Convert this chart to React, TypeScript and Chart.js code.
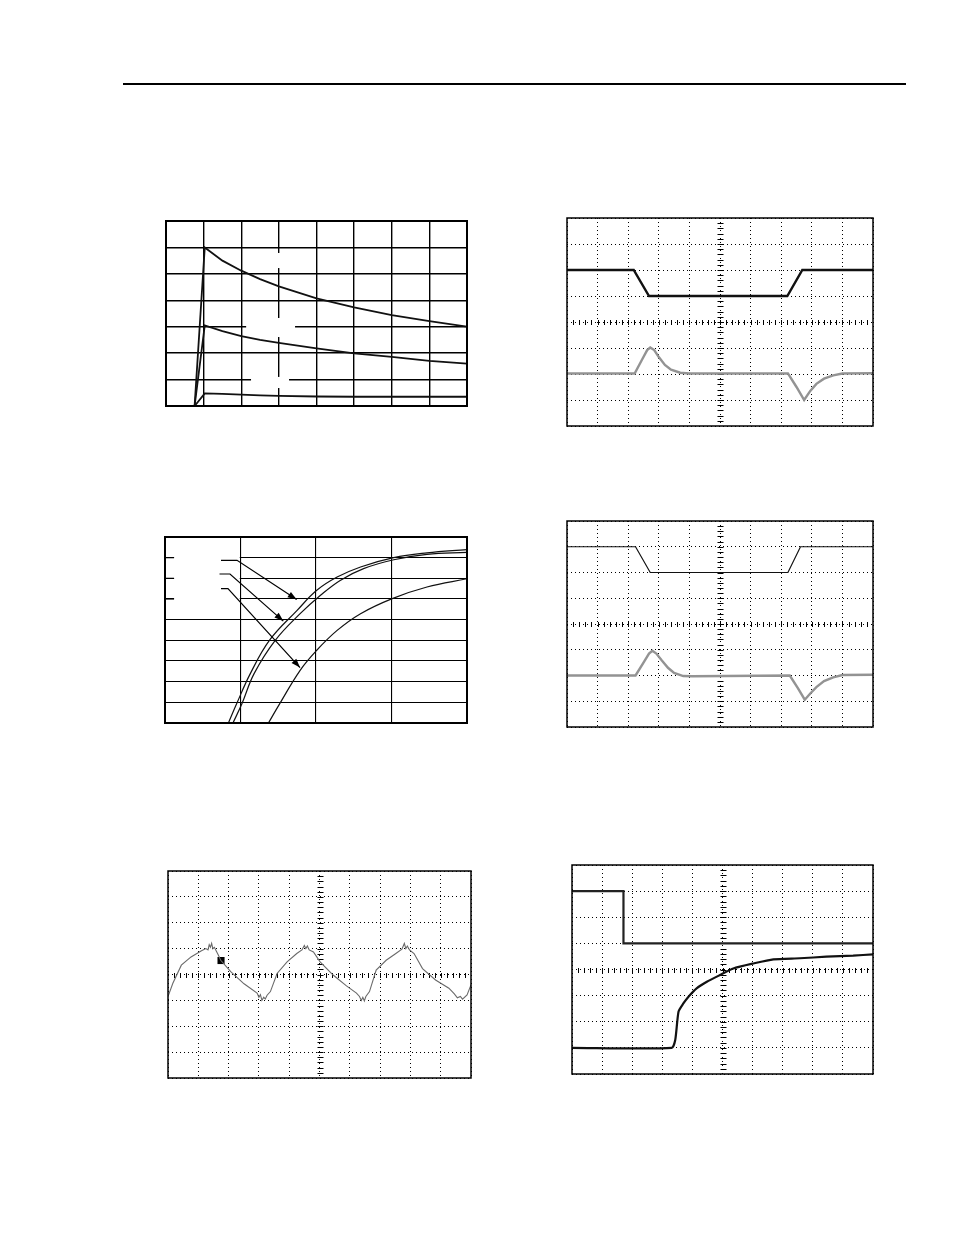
import React, { useEffect, useRef } from "react";
import { Chart, registerables } from "chart.js";

Chart.register(...registerables);

// ---------- Chart 1 (top-left): step response decays ----------
const C1_X = [0, 0.76, 1.03, 1.5, 2, 2.5, 3, 4, 5, 6, 7, 8];
const C1_A = [0, 0, 6.0, 5.5, 5.12, 4.8, 4.53, 4.07, 3.73, 3.44, 3.21, 3.0];
const C1_B = [0, 0, 3.05, 2.83, 2.64, 2.5, 2.39, 2.18, 1.99, 1.86, 1.71, 1.6];
const C1_C = [0, 0, 0.48, 0.46, 0.43, 0.4, 0.38, 0.36, 0.35, 0.35, 0.35, 0.35];
// blank label boxes (data units: x0, x1, y0, y1)
const C1_MASKS = [
  [2.82, 3.22, 5.22, 5.79],
  [2.13, 3.43, 2.61, 3.33],
  [2.26, 3.27, 0.68, 1.1],
];

// ---------- Chart 2 (middle-left): three rising curves ----------
const C2_X1 = [0.84, 0.95, 1.13, 1.39, 1.75, 2.01, 2.28, 2.59, 3.03, 3.47, 4.0];
const C2_Y1 = [0, 0.94, 2.39, 4.03, 5.45, 6.42, 7.06, 7.55, 8.0, 8.23, 8.39];
const C2_X2 = [0.9, 1.02, 1.18, 1.46, 1.79, 2.06, 2.32, 2.63, 3.03, 3.47, 4.0];
const C2_Y2 = [0, 0.94, 2.39, 4.0, 5.29, 6.18, 6.9, 7.47, 7.9, 8.16, 8.26];
const C2_X3 = [1.37, 1.52, 1.79, 2.01, 2.28, 2.59, 3.01, 3.47, 4.0];
const C2_Y3 = [0, 0.94, 2.55, 3.52, 4.48, 5.29, 6.02, 6.58, 6.98];
const C2_MASKS = [[0.12, 0.99, 5.8, 8.3]];
const C2_ARROWS = [
  { x: [0.742, 0.954, 1.744], y: [7.87, 7.87, 5.97] },
  { x: [0.722, 0.861, 1.567], y: [7.21, 7.21, 4.93] },
  { x: [0.742, 0.834, 1.788], y: [6.5, 6.5, 2.68] },
];
const C2_STUBS = [
  { x: [0, 0.12], y: [8, 8] },
  { x: [0, 0.12], y: [7, 7] },
  { x: [0, 0.12], y: [6, 6] },
];

// ---------- Chart 3 (bottom-left): scope ripple ----------
const C3_X = [0, 0.16, 0.44, 0.76, 1.09, 1.25, 1.32, 1.36, 1.4, 1.44, 1.48, 1.53, 1.58, 1.66, 1.74, 2.07, 2.51, 2.94, 3.0, 3.05, 3.1, 3.16, 3.21, 3.27, 3.38, 3.6, 3.93, 4.25, 4.42, 4.5, 4.55, 4.6, 4.66, 4.8, 5.02, 5.45, 5.89, 6.22, 6.32, 6.38, 6.43, 6.48, 6.53, 6.65, 6.87, 7.2, 7.52, 7.72, 7.8, 7.85, 7.9, 7.97, 8.12, 8.4, 8.83, 9.27, 9.45, 9.55, 9.65, 9.72, 9.87, 10];
const C3_Y = [3.15, 3.66, 4.36, 4.68, 4.91, 5.0, 4.95, 5.15, 5.05, 5.2, 5.0, 5.05, 4.94, 4.75, 4.55, 4.11, 3.64, 3.28, 3.12, 3.22, 3.0, 3.12, 3.05, 3.2, 3.34, 4.04, 4.49, 4.81, 4.95, 5.12, 5.0, 5.1, 4.95, 4.87, 4.49, 3.98, 3.56, 3.28, 3.15, 3.0, 3.12, 2.98, 3.15, 3.34, 4.17, 4.55, 4.81, 4.98, 5.2, 5.0, 5.1, 4.95, 4.81, 4.23, 3.79, 3.47, 3.25, 3.1, 3.15, 3.05, 3.21, 3.6];
const C3_MARK_X = [1.75];
const C3_MARK_Y = [4.54];

// ---------- Chart 4 (top-right) ----------
const C4_AX = [0, 2.18, 2.68, 7.2, 7.69, 10];
const C4_AY = [6, 6, 5, 5, 6, 6];
const C4_BX = [0, 2.21, 2.45, 2.62, 2.72, 2.85, 3.0, 3.2, 3.4, 3.7, 4.0, 7.22, 7.5, 7.75, 7.95, 8.15, 8.4, 8.7, 9.0, 10];
const C4_BY = [2.02, 2.02, 2.55, 2.92, 3.02, 2.92, 2.65, 2.35, 2.17, 2.05, 2.02, 2.02, 1.5, 1.0, 1.35, 1.62, 1.82, 1.95, 2.02, 2.03];

// ---------- Chart 5 (middle-right) ----------
const C5_AX = [0, 2.24, 2.72, 7.22, 7.63, 10];
const C5_AY = [7, 7, 6, 6, 7, 7];
const C5_BX = [0, 2.24, 2.5, 2.68, 2.79, 2.92, 3.1, 3.3, 3.5, 3.8, 4.1, 7.28, 7.55, 7.77, 7.95, 8.15, 8.4, 8.7, 9.0, 10];
const C5_BY = [2.0, 2.0, 2.5, 2.85, 2.96, 2.85, 2.58, 2.3, 2.1, 1.98, 1.97, 2.0, 1.5, 1.06, 1.3, 1.55, 1.78, 1.93, 2.02, 2.03];

// ---------- Chart 6 (bottom-right) ----------
const C6_AX = [0, 1.71, 1.71, 10];
const C6_AY = [7, 7, 5, 5];
const C6_BX = [0, 3.31, 3.43, 3.54, 3.7, 3.87, 4.14, 4.48, 4.92, 5.36, 6.02, 6.69, 7.57, 8.45, 9.34, 10];
const C6_BY = [1, 1, 1.3, 2.39, 2.7, 2.96, 3.28, 3.53, 3.79, 4.04, 4.23, 4.39, 4.43, 4.49, 4.53, 4.58];

const PAD = 4;

const zip = (xs: number[], ys: number[]) => xs.map((x, i) => ({ x, y: ys[i] }));

const line = (data: any[], color: string, width: number, tension = 0) => ({
  data,
  showLine: true,
  borderColor: color,
  borderWidth: width,
  pointRadius: 0,
  tension,
  fill: false,
});

const framePlugin = (w: number) => ({
  id: "frame",
  afterDatasetsDraw(chart: any) {
    const { ctx, chartArea: a } = chart;
    ctx.save();
    ctx.strokeStyle = "#000";
    ctx.lineWidth = w;
    ctx.strokeRect(a.left, a.top, a.right - a.left, a.bottom - a.top);
    ctx.restore();
  },
});

const maskPlugin = (rects: number[][]) => ({
  id: "mask",
  beforeDatasetsDraw(chart: any) {
    const { ctx } = chart;
    const xs = chart.scales.x;
    const ys = chart.scales.y;
    ctx.save();
    ctx.fillStyle = "#fff";
    for (const [x0, x1, y0, y1] of rects) {
      const px0 = xs.getPixelForValue(x0);
      const px1 = xs.getPixelForValue(x1);
      const py0 = ys.getPixelForValue(y1);
      const py1 = ys.getPixelForValue(y0);
      ctx.fillRect(px0, py0, px1 - px0, py1 - py0);
    }
    ctx.restore();
  },
});

const pathPlugin = (paths: { x: number[]; y: number[] }[], arrow: boolean, id: string) => ({
  id,
  afterDatasetsDraw(chart: any) {
    const { ctx } = chart;
    const xs = chart.scales.x;
    const ys = chart.scales.y;
    ctx.save();
    ctx.strokeStyle = "#000";
    ctx.fillStyle = "#000";
    ctx.lineWidth = 1.2;
    for (const p of paths) {
      const pts = p.x.map((x, i) => [xs.getPixelForValue(x), ys.getPixelForValue(p.y[i])]);
      ctx.beginPath();
      pts.forEach(([px, py], i) => (i ? ctx.lineTo(px, py) : ctx.moveTo(px, py)));
      ctx.stroke();
      if (arrow && pts.length > 1) {
        const [x1, y1] = pts[pts.length - 2];
        const [x2, y2] = pts[pts.length - 1];
        const ang = Math.atan2(y2 - y1, x2 - x1);
        const L = 9;
        const W = 3.2;
        ctx.beginPath();
        ctx.moveTo(x2, y2);
        ctx.lineTo(x2 - L * Math.cos(ang) + W * Math.sin(ang), y2 - L * Math.sin(ang) - W * Math.cos(ang));
        ctx.lineTo(x2 - L * Math.cos(ang) - W * Math.sin(ang), y2 - L * Math.sin(ang) + W * Math.cos(ang));
        ctx.closePath();
        ctx.fill();
      }
    }
    ctx.restore();
  },
});

const scopeTicksPlugin = {
  id: "scopeTicks",
  beforeDatasetsDraw(chart: any) {
    const { ctx } = chart;
    const xs = chart.scales.x;
    const ys = chart.scales.y;
    const cx = Math.round(xs.getPixelForValue(5)) + 0.5;
    const cy = Math.round(ys.getPixelForValue(4)) + 0.5;
    ctx.save();
    ctx.strokeStyle = "#000";
    ctx.lineWidth = 1;
    ctx.beginPath();
    for (let i = 1; i < 50; i++) {
      const px = Math.round(xs.getPixelForValue(i * 0.2)) + 0.5;
      ctx.moveTo(px, cy - 2.5);
      ctx.lineTo(px, cy + 2.5);
    }
    for (let i = 1; i < 40; i++) {
      const py = Math.round(ys.getPixelForValue(i * 0.2)) + 0.5;
      ctx.moveTo(cx - 3, py);
      ctx.lineTo(cx + 3, py);
    }
    ctx.stroke();
    ctx.restore();
  },
};

function makeOptions(xmax: number, ymax: number, dash: number[], gridW: number) {
  const axis = (max: number) => ({
    type: "linear",
    min: 0,
    max,
    ticks: { display: false, stepSize: 1 },
    grid: { color: "#000", lineWidth: gridW, drawTicks: false },
    border: { display: false, dash },
  });
  return {
    responsive: false,
    animation: false,
    events: [],
    layout: { padding: PAD },
    plugins: { legend: { display: false }, tooltip: { enabled: false } },
    scales: { x: axis(xmax), y: axis(ymax) },
  };
}

function Panel(props: { left: number; top: number; w: number; h: number; build: () => any }) {
  const ref = useRef<HTMLCanvasElement | null>(null);
  useEffect(() => {
    if (!ref.current) return;
    const chart = new Chart(ref.current, props.build());
    return () => chart.destroy();
  }, []);
  return (
    <canvas
      ref={ref}
      width={props.w + 2 * PAD}
      height={props.h + 2 * PAD}
      style={{
        position: "absolute",
        left: props.left - PAD,
        top: props.top - PAD,
        width: props.w + 2 * PAD,
        height: props.h + 2 * PAD,
      }}
    />
  );
}

const SCOPE_DASH = [1, 3];

export default function App() {
  return (
    <div style={{ position: "absolute", left: 0, top: 0, width: 954, height: 1235, background: "#fff" }}>
      <div style={{ position: "absolute", left: 123, top: 83, width: 783, height: 2, background: "#000" }} />

      <Panel
        left={166}
        top={221}
        w={301}
        h={185}
        build={() => ({
          type: "scatter",
          data: {
            datasets: [
              line(zip(C1_X, C1_A), "#111", 1.8),
              line(zip(C1_X, C1_B), "#111", 1.8),
              line(zip(C1_X, C1_C), "#111", 1.8),
            ],
          },
          options: makeOptions(8, 7, [], 1.4),
          plugins: [maskPlugin(C1_MASKS), framePlugin(2)],
        })}
      />

      <Panel
        left={165}
        top={537}
        w={302}
        h={186}
        build={() => ({
          type: "scatter",
          data: {
            datasets: [
              line(zip(C2_X1, C2_Y1), "#111", 1.2, 0.4),
              line(zip(C2_X2, C2_Y2), "#111", 1.2, 0.4),
              line(zip(C2_X3, C2_Y3), "#111", 1.2, 0.4),
            ],
          },
          options: makeOptions(4, 9, [], 1.1),
          plugins: [
            maskPlugin(C2_MASKS),
            pathPlugin(C2_STUBS, false, "stubs"),
            pathPlugin(C2_ARROWS, true, "arrows"),
            framePlugin(2),
          ],
        })}
      />

      <Panel
        left={167}
        top={870}
        w={305}
        h={209}
        build={() => ({
          type: "scatter",
          data: {
            datasets: [
              line(zip(C3_X, C3_Y), "#6a6a6a", 1.1),
              {
                data: zip(C3_MARK_X, C3_MARK_Y),
                showLine: false,
                pointStyle: "rect",
                pointRadius: 5,
                backgroundColor: "#000",
                borderWidth: 0,
              },
            ],
          },
          options: makeOptions(10, 8, SCOPE_DASH, 1),
          plugins: [scopeTicksPlugin, framePlugin(1.5)],
        })}
      />

      <Panel
        left={567}
        top={218}
        w={306}
        h={208}
        build={() => ({
          type: "scatter",
          data: {
            datasets: [
              line(zip(C4_BX, C4_BY), "#939393", 2.4),
              line(zip(C4_AX, C4_AY), "#111", 2.4),
            ],
          },
          options: makeOptions(10, 8, SCOPE_DASH, 1),
          plugins: [scopeTicksPlugin, framePlugin(1.5)],
        })}
      />

      <Panel
        left={567}
        top={521}
        w={306}
        h={206}
        build={() => ({
          type: "scatter",
          data: {
            datasets: [
              line(zip(C5_BX, C5_BY), "#939393", 2.4),
              line(zip(C5_AX, C5_AY), "#111", 1.2),
            ],
          },
          options: makeOptions(10, 8, SCOPE_DASH, 1),
          plugins: [scopeTicksPlugin, framePlugin(1.5)],
        })}
      />

      <Panel
        left={572}
        top={865}
        w={301}
        h={209}
        build={() => ({
          type: "scatter",
          data: {
            datasets: [
              line(zip(C6_AX, C6_AY), "#222", 2.2),
              line(zip(C6_BX, C6_BY), "#111", 2.2, 0.2),
            ],
          },
          options: makeOptions(10, 8, SCOPE_DASH, 1),
          plugins: [scopeTicksPlugin, framePlugin(1.5)],
        })}
      />
    </div>
  );
}
